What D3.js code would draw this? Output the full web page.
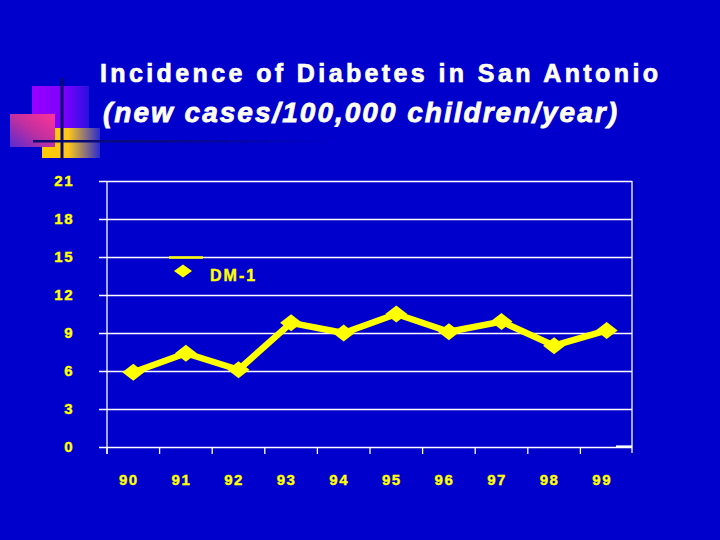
<!DOCTYPE html>
<html>
<head>
<meta charset="utf-8">
<script src="https://cdn.jsdelivr.net/npm/d3@7"></script>
<style>
  html, body { margin: 0; padding: 0; background: #0000cc; }
  svg { display: block; }
</style>
</head>
<body>
<svg id="chart" width="720" height="540"></svg>
<script>
const years = ["90", "91", "92", "93", "94", "95", "96", "97", "98", "99"];
const dm1 = [5.9, 7.4, 6.1, 9.8, 9.0, 10.5, 9.1, 9.9, 8.0, 9.2];
const yTicks = [0, 3, 6, 9, 12, 15, 18, 21];
const seriesName = "DM-1";
const titleLine1 = "Incidence of Diabetes in San Antonio";
const titleLine2 = "(new cases/100,000 children/year)";

const svg = d3.select("#chart");
const bg = "#0000cc";
const yellow = "#ffff00";
const titleColor = "#fffff0";
const font = "'Liberation Sans', Arial, sans-serif";

svg.append("rect").attr("width", 720).attr("height", 540).attr("fill", bg);

// decorative squares
const defs = svg.append("defs");
function grad(id, x1, y1, x2, y2, stops) {
  const g = defs.append("linearGradient").attr("id", id)
    .attr("x1", x1).attr("y1", y1).attr("x2", x2).attr("y2", y2);
  stops.forEach(s => g.append("stop").attr("offset", s[0]).attr("stop-color", s[1]));
}
grad("gPurple", 0, 0, 1, 0, [[0, "#9a00ff"], [0.6, "#7a00ff"], [1, "#2a10e0"]]);
grad("gYellow", 0, 0, 1, 0, [[0, "#ffcc00"], [0.45, "#ffc818"], [1, "#2a2ad0"]]);
grad("gPink", 1, 0, 0, 1, [[0, "#ff3399"], [0.5, "#c0309f"], [1, "#5a2ad0"]]);
grad("gLine", 0, 0, 1, 0, [[0, "#0a0a70"], [0.4, "#0a0a80"], [1, bg]]);

svg.append("rect").attr("x", 32).attr("y", 86).attr("width", 57).attr("height", 44).attr("fill", "url(#gPurple)");
svg.append("rect").attr("x", 42).attr("y", 128).attr("width", 58).attr("height", 30).attr("fill", "url(#gYellow)");
svg.append("rect").attr("x", 10).attr("y", 114).attr("width", 45).attr("height", 33).attr("fill", "url(#gPink)");
svg.append("rect").attr("x", 33).attr("y", 140).attr("width", 300).attr("height", 2.5).attr("fill", "url(#gLine)");
svg.append("rect").attr("x", 60.5).attr("y", 78).attr("width", 3).attr("height", 82).attr("fill", "#0a0a70");

// titles
svg.append("text").attr("x", 100).attr("y", 82)
  .attr("font-family", font).attr("font-weight", "bold").attr("font-size", 25)
  .attr("fill", titleColor).attr("stroke", titleColor).attr("stroke-width", 0.7)
  .attr("textLength", 558).attr("lengthAdjust", "spacing")
  .text(titleLine1);
svg.append("text").attr("x", 103).attr("y", 122)
  .attr("font-family", font).attr("font-weight", "bold").attr("font-style", "italic").attr("font-size", 28)
  .attr("fill", titleColor).attr("stroke", titleColor).attr("stroke-width", 0.8)
  .attr("textLength", 514).attr("lengthAdjust", "spacing")
  .text(titleLine2);

// scales
const x = d3.scaleBand().domain(years).range([107, 633]).padding(0);
const y = d3.scaleLinear().domain([0, 21]).range([447, 181]);
const cx = d => x(d) + x.bandwidth() / 2;

// grid lines + y ticks
const yAxis = d3.axisLeft(y).tickValues(yTicks).tickSize(-(633 - 107)).tickSizeOuter(0).tickFormat("");
const gy = svg.append("g").attr("transform", "translate(107,0)").call(yAxis);
gy.select(".domain").remove();
gy.selectAll(".tick line").attr("stroke", "#ffffff").attr("stroke-width", 1.3).attr("x1", -8).attr("x2", 525);

// y labels
svg.append("g").selectAll("text").data(yTicks).join("text")
  .attr("x", 74).attr("y", d => y(d) + 5)
  .attr("text-anchor", "end")
  .attr("font-family", font).attr("font-weight", "bold").attr("font-size", 15)
  .attr("letter-spacing", 1.5)
  .attr("fill", yellow).attr("stroke", yellow).attr("stroke-width", 0.4)
  .text(d => d);

// left axis & right border
svg.append("line").attr("x1", 107).attr("x2", 107).attr("y1", 181).attr("y2", 454)
  .attr("stroke", "#ffffff").attr("stroke-width", 1.3);
svg.append("line").attr("x1", 632).attr("x2", 632).attr("y1", 181).attr("y2", 453)
  .attr("stroke", "#ffffff").attr("stroke-width", 1.3);

// x axis ticks at band boundaries
const xAxis = d3.axisBottom(x).tickSize(7).tickSizeOuter(0).tickFormat("");
const gx = svg.append("g").attr("transform", "translate(0,447)").call(xAxis);
gx.select(".domain").remove();
gx.selectAll(".tick line").attr("stroke", "#ffffff").attr("stroke-width", 1.3)
  .attr("transform", `translate(${-x.bandwidth() / 2},0)`);
svg.append("line").attr("x1", 616).attr("x2", 632).attr("y1", 446.5).attr("y2", 446.5)
  .attr("stroke", "#ffffff").attr("stroke-width", 2.2);

// x labels
svg.append("g").selectAll("text").data(years).join("text")
  .attr("x", d => cx(d) - 4.5).attr("y", 485)
  .attr("text-anchor", "middle")
  .attr("font-family", font).attr("font-weight", "bold").attr("font-size", 15)
  .attr("letter-spacing", 1.5)
  .attr("fill", yellow).attr("stroke", yellow).attr("stroke-width", 0.4)
  .text(d => d);

// series line
const pts = years.map((yr, i) => [cx(yr), y(dm1[i])]);
svg.append("path").attr("d", d3.line()(pts))
  .attr("fill", "none").attr("stroke", yellow).attr("stroke-width", 6.5).attr("stroke-linejoin", "round");

function diamond(w, h) {
  return `M0,${-h / 2}L${w / 2},0L0,${h / 2}L${-w / 2},0Z`;
}
svg.append("g").selectAll("path").data(pts).join("path")
  .attr("transform", d => `translate(${d[0]},${d[1]})`)
  .attr("d", diamond(22, 17))
  .attr("fill", yellow);

// legend
svg.append("line").attr("x1", 169).attr("x2", 203).attr("y1", 257.5).attr("y2", 257.5)
  .attr("stroke", yellow).attr("stroke-width", 2.5);
svg.append("path").attr("transform", "translate(183,271)").attr("d", diamond(18, 13)).attr("fill", yellow);
svg.append("text").attr("x", 210).attr("y", 281)
  .attr("font-family", font).attr("font-weight", "bold").attr("font-size", 16)
  .attr("letter-spacing", 2)
  .attr("fill", yellow).attr("stroke", yellow).attr("stroke-width", 0.4)
  .text(seriesName);
</script>
</body>
</html>
